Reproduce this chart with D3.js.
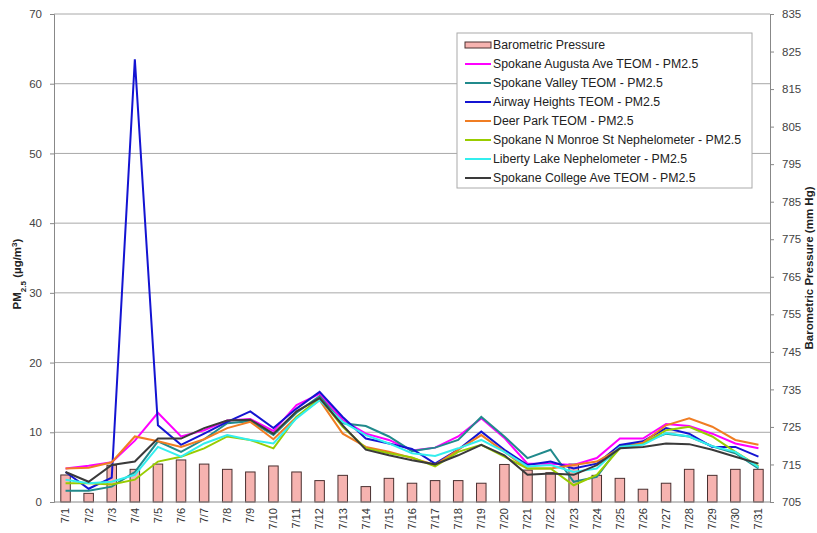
<!DOCTYPE html>
<html>
<head>
<meta charset="utf-8">
<script src="https://cdn.jsdelivr.net/npm/d3@7"></script>
<style>
  body { margin: 0; background: #fff; }
  svg { display: block; font-family: "Liberation Sans", Arial, sans-serif; }
</style>
</head>
<body>
<svg id="chart" width="817" height="533"></svg>
<script>
// July days
const days = ["7/1","7/2","7/3","7/4","7/5","7/6","7/7","7/8","7/9","7/10","7/11","7/12","7/13","7/14","7/15","7/16",
  "7/17","7/18","7/19","7/20","7/21","7/22","7/23","7/24","7/25","7/26","7/27","7/28","7/29","7/30","7/31"];

// barometric pressure (mm Hg), right axis
const pressure = [712.2,707.3,714.8,713.7,715.1,716.2,715.1,713.7,713.0,714.6,713.0,710.7,712.1,709.1,711.3,710.0,
  710.7,710.7,710.0,715.0,713.5,712.8,715.1,712.1,711.3,708.4,710.0,713.7,712.1,713.7,713.7];

// PM2.5 series (ug/m3), left axis
const augusta = [4.8,5.2,5.7,8.8,12.8,9.4,10.3,11.7,11.9,10.2,13.9,15.5,11.8,9.8,8.9,7.4,7.8,9.4,12.0,9.2,5.5,5.5,5.3,6.3,9.1,9.1,11.2,10.9,9.8,8.4,7.7];
const valley  = [1.6,1.6,2.2,4.3,8.7,7.2,9.0,11.3,11.6,9.6,12.8,15.2,11.3,10.9,9.4,7.3,7.8,8.9,12.2,9.4,6.3,7.5,2.9,3.6,8.0,8.5,9.8,9.4,8.0,7.0,4.8];
const airway  = [4.3,1.9,3.5,63.5,11.0,8.2,9.8,11.5,13.0,10.6,13.4,15.8,12.2,9.1,8.4,7.6,5.5,7.5,10.1,7.5,5.3,5.8,4.8,5.5,8.2,8.7,10.6,9.8,7.9,7.9,6.5];
const deerPark = [4.8,4.9,5.7,9.4,8.7,7.9,9.0,10.6,11.5,9.0,12.2,14.6,9.8,7.9,7.2,6.3,5.3,7.5,9.6,7.2,4.8,4.8,5.3,5.8,7.7,8.5,11.0,12.0,10.8,8.9,8.2];
const monroe  = [2.7,2.7,2.5,3.2,5.8,6.5,7.7,9.4,8.9,7.7,12.2,14.9,10.8,7.7,7.0,6.4,5.1,7.2,8.2,6.5,4.8,4.8,2.4,3.9,7.7,8.3,10.3,10.8,9.4,7.2,5.1];
const liberty = [3.2,2.7,2.9,3.9,7.9,6.5,8.4,9.6,8.9,8.4,12.0,14.6,11.5,9.6,8.4,7.0,6.6,7.7,8.9,7.2,5.1,5.3,4.3,4.8,7.9,8.2,9.9,9.4,8.0,7.2,5.0];
const college = [4.3,2.9,5.3,5.8,9.1,9.1,10.6,11.7,11.8,9.8,13.0,14.9,11.0,7.5,6.7,6.0,5.4,6.7,8.2,6.7,3.9,4.1,3.9,5.3,7.7,7.9,8.4,8.3,7.5,6.5,5.5];

const seriesNames = ["Spokane Augusta Ave TEOM - PM2.5","Spokane Valley TEOM - PM2.5","Airway Heights TEOM - PM2.5",
  "Deer Park TEOM - PM2.5","Spokane N Monroe St Nephelometer - PM2.5","Liberty Lake Nephelometer - PM2.5",
  "Spokane College Ave TEOM - PM2.5"];
const seriesValues = [augusta, valley, airway, deerPark, monroe, liberty, college];
const seriesColors = ["#ff00ff","#218a8c","#1414d2","#f07d23","#99cc00","#33eeee","#3a3a3a"];

const leftTicks = [0,10,20,30,40,50,60,70];
const rightTicks = [705,715,725,735,745,755,765,775,785,795,805,815,825,835];

const svg = d3.select("#chart");
const margin = {top: 14, right: 47, bottom: 31, left: 54};
const width = 817 - margin.left - margin.right;
const height = 533 - margin.top - margin.bottom;
const g = svg.append("g").attr("transform", `translate(${margin.left},${margin.top})`);

const x = d3.scaleBand().domain(days).range([0, width]);
const yL = d3.scaleLinear().domain([0, 70]).range([height, 0]);
const yR = d3.scaleLinear().domain([705, 835]).range([height, 0]);

// gridlines
g.selectAll(".grid").data(leftTicks.slice(1)).join("line")
  .attr("x1", 0).attr("x2", width)
  .attr("y1", d => yL(d)).attr("y2", d => yL(d))
  .attr("stroke", "#a8a8a8").attr("stroke-width", 1);

// bars
const barW = 9.5;
g.selectAll(".bar").data(pressure).join("rect")
  .attr("x", (d, i) => x(days[i]) + x.bandwidth() / 2 - barW / 2)
  .attr("y", d => yR(d))
  .attr("width", barW)
  .attr("height", d => height - yR(d))
  .attr("fill", "#f6b3b0").attr("stroke", "#4a3030").attr("stroke-width", 1);

// lines
const line = d3.line()
  .x((d, i) => x(days[i]) + x.bandwidth() / 2)
  .y(d => yL(d));
seriesValues.forEach((vals, k) => {
  g.append("path").datum(vals)
    .attr("d", line)
    .attr("fill", "none")
    .attr("stroke", seriesColors[k])
    .attr("stroke-width", 2)
    .attr("stroke-linejoin", "miter");
});

// axes
const axisColor = "#888";
const leftAxis = g.append("g").call(d3.axisLeft(yL).tickValues(leftTicks).tickSize(4).tickPadding(8));
const rightAxis = g.append("g").attr("transform", `translate(${width},0)`)
  .call(d3.axisRight(yR).tickValues(rightTicks).tickSize(4).tickPadding(8));
[leftAxis, rightAxis].forEach(a => {
  a.select(".domain").attr("stroke", axisColor);
  a.selectAll(".tick line").attr("stroke", axisColor);
  a.selectAll(".tick text").attr("fill", "#444").style("font-size", "11.5px")
    .style("font-family", "'Liberation Sans', Arial, sans-serif");
});
g.append("line").attr("x1", 0).attr("x2", width).attr("y1", height).attr("y2", height)
  .attr("stroke", axisColor);

// x labels, rotated
g.selectAll(".xl").data(days).join("text")
  .attr("transform", d => `translate(${x(d) + x.bandwidth() / 2},${height + 6}) rotate(-90)`)
  .attr("text-anchor", "end").attr("dy", "0.35em")
  .attr("fill", "#333").style("font-size", "11px")
  .text(d => d);

// axis titles
const lt = svg.append("text")
  .attr("transform", "translate(21,274) rotate(-90)")
  .attr("text-anchor", "middle").attr("font-weight", "bold")
  .attr("fill", "#222").style("font-size", "11.5px");
lt.append("tspan").text("PM");
lt.append("tspan").attr("baseline-shift", "sub").style("font-size", "8px").text("2.5");
lt.append("tspan").text(" (µg/m");
lt.append("tspan").attr("baseline-shift", "super").style("font-size", "8px").text("3");
lt.append("tspan").text(")");

svg.append("text")
  .attr("transform", "translate(813,268) rotate(-90)")
  .attr("text-anchor", "middle").attr("font-weight", "bold")
  .attr("fill", "#222").style("font-size", "11.5px")
  .text("Barometric Pressure (mm Hg)");

// legend
const lg = svg.append("g").attr("transform", "translate(457,33)");
lg.append("rect").attr("width", 295).attr("height", 155)
  .attr("fill", "#fff").attr("stroke", "#aaa");
const rowY = i => 12 + i * 19;
lg.append("rect").attr("x", 8).attr("y", rowY(0) - 3).attr("width", 26).attr("height", 6)
  .attr("fill", "#f6b3b0").attr("stroke", "#4a3030");
lg.append("text").attr("x", 36).attr("y", rowY(0)).attr("dy", "0.35em")
  .attr("fill", "#222").style("font-size", "12.3px").text("Barometric Pressure");
seriesNames.forEach((name, k) => {
  const yy = rowY(k + 1);
  lg.append("line").attr("x1", 8).attr("x2", 34).attr("y1", yy).attr("y2", yy)
    .attr("stroke", seriesColors[k]).attr("stroke-width", 2);
  lg.append("text").attr("x", 36).attr("y", yy).attr("dy", "0.35em")
    .attr("fill", "#222").style("font-size", "12.3px").text(name);
});
</script>
</body>
</html>
